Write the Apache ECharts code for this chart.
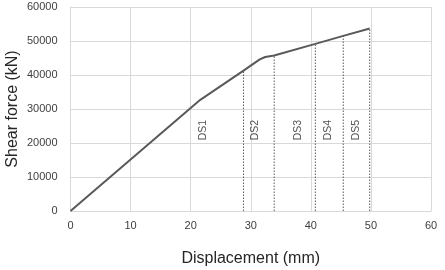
<!DOCTYPE html>
<html><head><meta charset="utf-8">
<script src="https://cdn.jsdelivr.net/npm/echarts@6/dist/echarts.min.js"></script>
<style>html,body{margin:0;padding:0;background:#fff}#c{width:445px;height:270px}</style>
</head><body><div id="c"></div>
<script>
const displacement = [0, 21.6, 28.8, 31.5, 32.4, 33.9, 40.75, 45.4, 49.8];
const shearForce = [0, 32700, 41300, 44600, 45300, 45750, 49150, 51500, 53700];
const dsNames = ['DS1', 'DS2', 'DS3', 'DS4', 'DS5'];
const dsDisp = [28.8, 33.9, 40.75, 45.4, 49.8];
const dsForce = [41300, 45750, 49150, 51500, 53700];
const dsLabelX = [22.1, 30.8, 37.8, 42.8, 47.5];
const dsLabelY = 23800;
const xTicks = [0, 10, 20, 30, 40, 50, 60];
const yTicks = [0, 10000, 20000, 30000, 40000, 50000, 60000];

const font = 'Liberation Sans, Arial, sans-serif';
const series = [{
  type: 'line',
  data: displacement.map((d, i) => [d, shearForce[i]]),
  showSymbol: false,
  lineStyle: { color: '#595959', width: 2 },
  z: 5
}];
dsDisp.forEach((d, i) => {
  series.push({
    type: 'line',
    data: [[d, 0], [d, dsForce[i]]],
    showSymbol: false,
    lineStyle: { color: '#595959', width: 1, type: [1.5, 1.5] },
    z: 3
  });
});
series.push({
  type: 'scatter',
  symbolSize: 0,
  data: dsLabelX.map((x, i) => ({ value: [x, dsLabelY], name: dsNames[i] })),
  label: {
    show: true, position: 'inside', rotate: 90, formatter: p => p.name,
    color: '#262626', fontSize: 10.5, fontFamily: font
  },
  z: 6
});

const chart = echarts.init(document.getElementById('c'));
chart.setOption({
  animation: false,
  grid: { left: 70.5, right: 14, top: 7, bottom: 59, containLabel: false, outerBoundsMode: 'none' },
  xAxis: {
    type: 'value', min: xTicks[0], max: xTicks[xTicks.length - 1], interval: 10,
    name: 'Displacement (mm)', nameLocation: 'middle', nameGap: 40, nameMoveOverlap: false,
    nameTextStyle: { fontSize: 16, color: '#262626', fontFamily: font },
    axisLine: { lineStyle: { color: '#d9d9d9' } },
    axisTick: { show: false },
    axisLabel: { fontSize: 11, color: '#404040', fontFamily: font, margin: 9, formatter: v => String(v) },
    splitLine: { lineStyle: { color: '#d9d9d9' } }
  },
  yAxis: {
    type: 'value', min: yTicks[0], max: yTicks[yTicks.length - 1], interval: 10000,
    name: 'Shear force (kN)', nameLocation: 'middle', nameGap: 50, nameMoveOverlap: false,
    nameTextStyle: { fontSize: 16, color: '#262626', fontFamily: font },
    axisLine: { show: true, lineStyle: { color: '#d9d9d9' } },
    axisTick: { show: false },
    axisLabel: { fontSize: 11, color: '#404040', fontFamily: font, margin: 13, formatter: v => String(v) },
    splitLine: { lineStyle: { color: '#d9d9d9' } }
  },
  series: series
});
</script></body></html>
